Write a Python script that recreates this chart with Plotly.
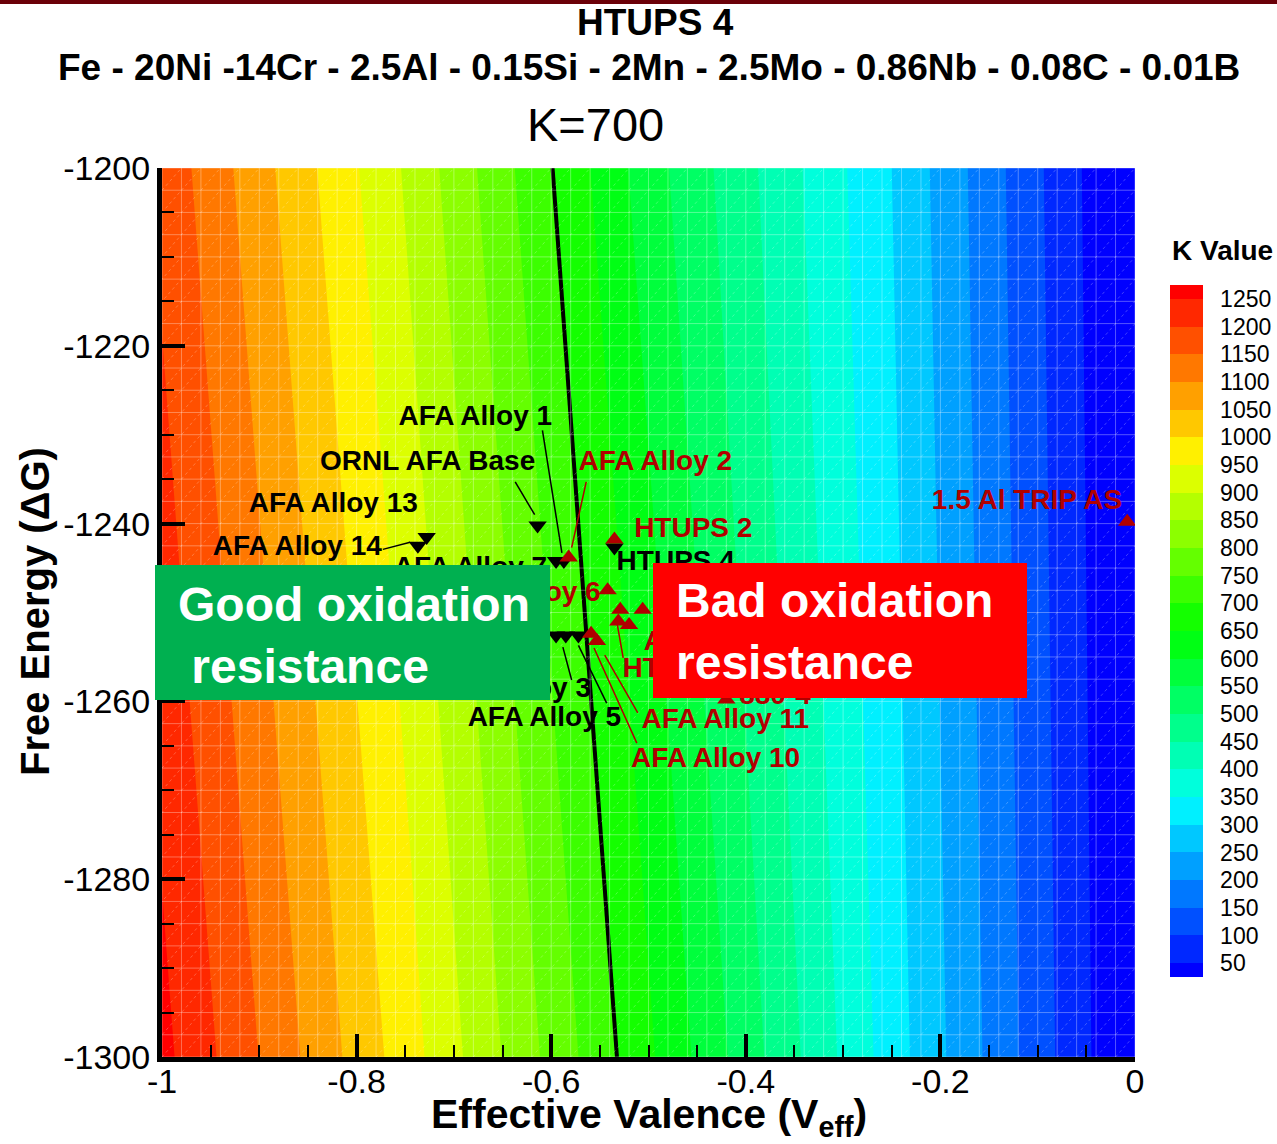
import numpy as np
import plotly.graph_objects as go

FONT = "Arial, Liberation Sans, sans-serif"

# ---------------- data ----------------
# background K-value field
veff_grid = [-1.0, -0.75, -0.5, -0.25, 0.0]
dg_grid = [-1300.0, -1200.0]
k_bottom = [1265, 975, 659, 325, -10]
k_top = [1185, 895, 573, 300, -20]

k_levels = list(range(50, 1251, 50))  # 50 .. 1250
band_colors = [
    "rgb(0,0,255)", "rgb(0,40,255)", "rgb(0,80,255)", "rgb(0,120,255)",
    "rgb(0,160,255)", "rgb(0,200,255)", "rgb(0,240,255)", "rgb(0,255,220)",
    "rgb(0,255,180)", "rgb(0,255,140)", "rgb(0,255,100)", "rgb(0,255,60)",
    "rgb(0,255,20)", "rgb(20,255,0)", "rgb(60,255,0)", "rgb(100,255,0)",
    "rgb(140,255,0)", "rgb(180,255,0)", "rgb(220,255,0)", "rgb(255,240,0)",
    "rgb(255,200,0)", "rgb(255,160,0)", "rgb(255,120,0)", "rgb(255,80,0)",
    "rgb(255,40,0)", "rgb(255,0,0)",
]

# good alloys (black, down triangles)
good_names = ["AFA Alloy 13", "AFA Alloy 14", "ORNL AFA Base", "AFA Alloy 7",
              "AFA Alloy 1", "HTUPS 4", "", "AFA Alloy 3", "AFA Alloy 5"]
good_veff = [-0.728, -0.737, -0.614, -0.595, -0.587, -0.535, -0.595, -0.585, -0.572]
good_dg = [-1241.5, -1242.5, -1240.2, -1244.2, -1244.2, -1242.7, -1252.6, -1252.6, -1252.6]

# bad alloys (dark red, up triangles)
bad_names = ["AFA Alloy 2", "HTUPS 2", "AFA Alloy 6", "", "HTUPS 3", "", "AFA Alloy 12",
             "AFA Alloy 10", "AFA Alloy 11", "880-4", "1.5 Al TRIP AS"]
bad_veff = [-0.582, -0.535, -0.542, -0.529, -0.531, -0.520, -0.506,
            -0.559, -0.553, -0.420, -0.008]
bad_dg = [-1243.8, -1241.8, -1247.5, -1249.7, -1251.0, -1251.4, -1249.7,
          -1252.4, -1253.2, -1259.8, -1239.8]

# label positions (centres)
good_lab_names = ["AFA Alloy 1", "ORNL AFA Base", "AFA Alloy 13", "AFA Alloy 14",
                  "AFA Alloy 7", "HTUPS 4", "AFA Alloy 3", "AFA Alloy 5"]
good_lab_x = [-0.678, -0.727, -0.824, -0.861, -0.683, -0.472, -0.638, -0.607]
good_lab_y = [-1228.1, -1233.2, -1237.9, -1242.7, -1245.1, -1244.4, -1258.7, -1262.0]

bad_lab_names = ["AFA Alloy 2", "HTUPS 2", "AFA Alloy 6", "1.5 Al TRIP AS",
                 "AFA Alloy 11", "AFA Alloy 10", "880-4", "AFA Alloy 12", "HTUPS 3"]
bad_lab_x = [-0.493, -0.454, -0.628, -0.111, -0.421, -0.431, -0.370, -0.418, -0.466]
bad_lab_y = [-1233.2, -1240.7, -1247.9, -1237.6, -1262.2, -1266.6, -1259.5, -1253.4, -1256.5]

# leader lines (label end -> marker)
good_lead_x = [[-0.609, -0.589], [-0.637, -0.617], [-0.773, -0.745], [-0.579, -0.588], [-0.543, -0.572]]
good_lead_y = [[-1229.5, -1243.3], [-1235.3, -1239.0], [-1242.9, -1242.1], [-1257.6, -1253.9], [-1260.2, -1253.7]]
bad_lead_x = [[-0.564, -0.579], [-0.512, -0.556], [-0.511, -0.545], [-0.526, -0.532]]
bad_lead_y = [[-1235.3, -1242.7], [-1264.7, -1254.0], [-1261.3, -1254.8], [-1255.1, -1251.4]]

x_ticks = [-1, -0.8, -0.6, -0.4, -0.2, 0]
x_ticktext = ["-1", "-0.8", "-0.6", "-0.4", "-0.2", "0"]
y_ticks = [-1300, -1280, -1260, -1240, -1220, -1200]
y_ticktext = ["-1300", "-1280", "-1260", "-1240", "-1220", "-1200"]

DARKRED = "#B00000"

# ---------------- geometry helpers ----------------
W, H = 1277, 1144
L, R, T, B = 162, 142, 168, 87
PW, PH = W - L - R, H - T - B


def px(x):
    return (x - L) / PW


def py(y):
    return (H - B - y) / PH


# ---------------- figure ----------------
z = [k_bottom, k_top]
n = len(band_colors)
colorscale = [[i / (n - 1), c] for i, c in enumerate(band_colors)]

fig = go.Figure()

fig.add_trace(go.Contour(
    x=veff_grid, y=dg_grid, z=z,
    contours=dict(start=50, end=1250, size=50, coloring="fill", showlines=False),
    colorscale=colorscale, line=dict(width=0),
    hoverinfo="skip",
    colorbar=dict(
        thickness=33, thicknessmode="pixels",
        len=692 / PH, lenmode="fraction", y=py(631), yanchor="middle",
        xref="container", x=1170 / W, xanchor="left", xpad=0, ypad=0,
        tickvals=k_levels, ticktext=[str(v) for v in k_levels],
        tickfont=dict(family=FONT, size=23, color="black"),
        ticks="outside", ticklen=13, tickcolor="rgba(0,0,0,0)",
        outlinewidth=0,
    ),
))

# faint mesh overlay
mx, my = [], []
gx = np.arange(-1.0, 0.0001, 0.02)
gy = np.arange(-1300.0, -1199.9, 2.5)
for v in gx:
    mx += [v, v, None]; my += [-1300, -1200, None]
for g in gy:
    mx += [-1, 0, None]; my += [g, g, None]
fig.add_trace(go.Scatter(x=mx, y=my, mode="lines",
                         line=dict(color="rgba(255,255,255,0.33)", width=1),
                         hoverinfo="skip", showlegend=False))
dx, dy = [], []
slope = 2.5 / 0.02
for v0 in np.arange(-1.0 - 0.8, 0.0001, 0.02):
    dx += [v0, v0 + 0.8, None]; dy += [-1300, -1300 + 0.8 * slope, None]
fig.add_trace(go.Scatter(x=dx, y=dy, mode="lines",
                         line=dict(color="rgba(255,255,255,0.25)", width=1, dash="3px,3px"),
                         hoverinfo="skip", showlegend=False))

# K = 700 line
fig.add_trace(go.Contour(
    x=veff_grid, y=dg_grid, z=z,
    contours=dict(start=700, end=700, size=1, coloring="none"),
    line=dict(color="black", width=4), showscale=False, hoverinfo="skip",
))


# leader lines
def seg(xs, ys):
    ox, oy = [], []
    for a, b in zip(xs, ys):
        ox += a + [None]; oy += b + [None]
    return ox, oy


lx, ly = seg(good_lead_x, good_lead_y)
fig.add_trace(go.Scatter(x=lx, y=ly, mode="lines", line=dict(color="black", width=1.5),
                         hoverinfo="skip", showlegend=False))
lx, ly = seg(bad_lead_x, bad_lead_y)
fig.add_trace(go.Scatter(x=lx, y=ly, mode="lines", line=dict(color=DARKRED, width=1.5),
                         hoverinfo="skip", showlegend=False))

# markers
fig.add_trace(go.Scatter(x=good_veff, y=good_dg, mode="markers",
                         marker=dict(symbol="triangle-down", size=16, color="black"),
                         text=good_names, showlegend=False))
fig.add_trace(go.Scatter(x=bad_veff, y=bad_dg, mode="markers",
                         marker=dict(symbol="triangle-up", size=16, color=DARKRED),
                         text=bad_names, showlegend=False))

# labels
fig.add_trace(go.Scatter(x=good_lab_x, y=good_lab_y, mode="text", text=good_lab_names,
                         textposition="middle center",
                         textfont=dict(family=FONT, size=28, color="black", weight="bold"),
                         hoverinfo="skip", showlegend=False, cliponaxis=False))
fig.add_trace(go.Scatter(x=bad_lab_x, y=bad_lab_y, mode="text", text=bad_lab_names,
                         textposition="middle center",
                         textfont=dict(family=FONT, size=28, color=DARKRED, weight="bold"),
                         hoverinfo="skip", showlegend=False, cliponaxis=False))

# ---------------- layout ----------------
shapes = [
    dict(type="rect", xref="paper", yref="paper", x0=px(0), x1=px(W), y0=py(4), y1=py(0),
         fillcolor="#6B0008", line=dict(width=0), layer="above"),
    dict(type="rect", xref="paper", yref="paper", x0=px(155), x1=px(550), y0=py(700), y1=py(565),
         fillcolor="#00B050", line=dict(width=0), layer="above"),
    dict(type="rect", xref="paper", yref="paper", x0=px(653), x1=px(1027), y0=py(698), y1=py(563),
         fillcolor="#FF0000", line=dict(width=0), layer="above"),
]


def ann(text, x, y, size, color="black", **kw):
    d = dict(text=text, x=px(x), y=py(y), xref="paper", yref="paper",
             xanchor="center", yanchor="middle", showarrow=False,
             font=dict(family=FONT, size=size, color=color))
    d.update(kw)
    return d


annotations = [
    ann("<b>HTUPS 4</b>", 655, 22, 37),
    ann("<b>Fe - 20Ni -14Cr - 2.5Al - 0.15Si - 2Mn - 2.5Mo - 0.86Nb - 0.08C - 0.01B</b>", 649, 67, 37),
    ann("K=700", 595, 125, 47),
    ann("<b>Effective Valence (V<sub>eff</sub>)</b>", 649, 1117, 41),
    ann("<b>Free Energy (\u0394G)</b>", 35, 612, 40, textangle=-90),
    ann("<b>K Value</b>", 1222, 250, 28),
    ann("<b>Good oxidation<br>\u00a0resistance</b>", 176, 635, 48, color="white",
        xanchor="left", align="left"),
    ann("<b>Bad oxidation<br>resistance</b>", 674, 631, 48, color="white",
        xanchor="left", align="left"),
]

axis_common = dict(
    showgrid=False, zeroline=False, showline=True, linewidth=5, linecolor="black",
    ticks="inside", ticklen=23, tickwidth=4, tickcolor="black",
    tickfont=dict(family=FONT, size=34, color="black"),
    mirror=False,
)

fig.update_layout(
    width=W, height=H,
    margin=dict(l=L, r=R, t=T, b=B, pad=0),
    paper_bgcolor="white", plot_bgcolor="white",
    font=dict(family=FONT),
    showlegend=False,
    xaxis=dict(range=[-1, 0], tickvals=x_ticks, ticktext=x_ticktext, ticklabelstandoff=-10,
               minor=dict(dtick=0.05, ticks="inside", ticklen=12, tickwidth=2, tickcolor="black"),
               **axis_common),
    yaxis=dict(range=[-1300, -1200], tickvals=y_ticks, ticktext=y_ticktext,
               minor=dict(dtick=5, ticks="inside", ticklen=12, tickwidth=2, tickcolor="black"),
               **axis_common),
    shapes=shapes,
    annotations=annotations,
)

fig.write_html("out.html")
